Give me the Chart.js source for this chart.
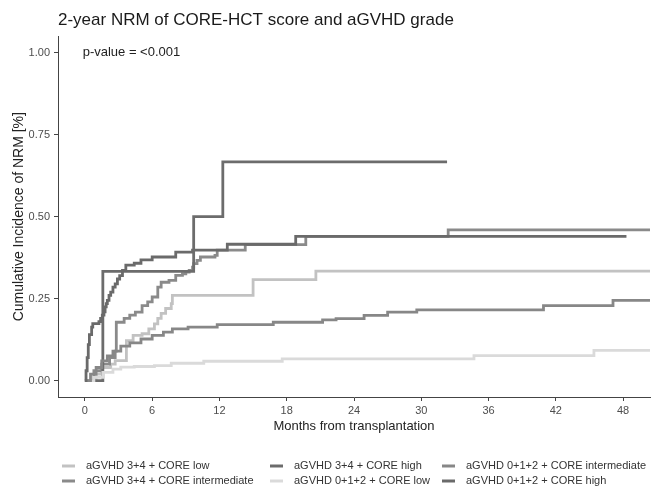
<!DOCTYPE html>
<html>
<head>
<meta charset="utf-8">
<script src="https://cdn.jsdelivr.net/npm/chart.js@4"></script>
<style>
  body { margin: 0; background: #fff; }
  canvas { display: block; }
</style>
</head>
<body>
<canvas id="nrm" width="654" height="486"></canvas>
<script>
// months / cumulative incidence
const low34T = [0, 1.0, 1.5, 2.3, 2.7, 3.7, 4.3, 5.1, 5.7, 6.2, 6.5, 6.8, 7.2, 7.7, 7.8, 15.0, 20.6, 50.4];
const low34V = [0, 0.02, 0.04, 0.05, 0.061, 0.122, 0.138, 0.143, 0.158, 0.173, 0.19, 0.205, 0.22, 0.235, 0.26, 0.308, 0.334, 0.334];

const int34T = [0, 0.8, 1.5, 2.2, 2.7, 2.8, 3.5, 4.0, 4.5, 5.1, 5.6, 6.0, 6.5, 6.8, 7.5, 8.1, 8.7, 9.0, 9.3, 9.6, 9.7, 10.0, 10.3, 11.6, 11.8, 14.3, 19.7, 32.4, 50.4];
const int34V = [0, 0.03, 0.05, 0.07, 0.09, 0.178, 0.19, 0.2, 0.209, 0.229, 0.24, 0.255, 0.285, 0.3, 0.306, 0.321, 0.326, 0.331, 0.336, 0.346, 0.357, 0.367, 0.377, 0.382, 0.398, 0.415, 0.44, 0.46, 0.46];

const high34T = [0, 1.6, 9.7, 12.3, 32.3];
const high34V = [0, 0.333, 0.5, 0.667, 0.667];

const low012T = [0, 0.8, 1.6, 2.5, 3.2, 4.4, 6.2, 7.7, 10.6, 17.6, 34.7, 45.4, 50.4];
const low012V = [0, 0.01, 0.025, 0.035, 0.041, 0.043, 0.046, 0.053, 0.059, 0.066, 0.076, 0.092, 0.092];

const int012T = [0, 0.5, 1, 1.5, 2, 2.5, 3.2, 4, 5, 6, 7, 7.8, 9.2, 11.8, 16.8, 21.2, 22.4, 24.9, 27, 29.6, 40.9, 47.1, 50.4];
const int012V = [0, 0.02, 0.04, 0.06, 0.075, 0.09, 0.105, 0.115, 0.127, 0.138, 0.148, 0.158, 0.163, 0.171, 0.178, 0.185, 0.189, 0.199, 0.209, 0.216, 0.229, 0.245, 0.245];

const high012T = [0, 0.1, 0.2, 0.3, 0.4, 0.6, 0.7, 1.25, 1.4, 1.55, 1.7, 1.8, 1.9, 2.0, 2.15, 2.3, 2.5, 2.7, 2.9, 3.1, 3.35, 3.65, 4.4, 5.0, 6.0, 8.1, 9.6, 12.7, 18.8, 48.3];
const high012V = [0, 0.03, 0.07, 0.11, 0.14, 0.163, 0.174, 0.18, 0.19, 0.2, 0.21, 0.225, 0.235, 0.245, 0.26, 0.27, 0.285, 0.295, 0.31, 0.32, 0.336, 0.352, 0.358, 0.368, 0.377, 0.392, 0.398, 0.416, 0.44, 0.44];

const groupNames = [
  'aGVHD 3+4 + CORE low',
  'aGVHD 3+4 + CORE intermediate',
  'aGVHD 3+4 + CORE high',
  'aGVHD 0+1+2 + CORE low',
  'aGVHD 0+1+2 + CORE intermediate',
  'aGVHD 0+1+2 + CORE high'
];
const groupColors = ['#c2c2c2', '#8a8a8a', '#6c6c6c', '#dadada', '#878787', '#6a6a6a'];
const groupTimes = [low34T, int34T, high34T, low012T, int012T, high012T];
const groupValues = [low34V, int34V, high34V, low012V, int012V, high012V];

const xTicks = [0, 6, 12, 18, 24, 30, 36, 42, 48];
const yTicks = [0, 0.25, 0.5, 0.75, 1];

const FONT = '"Liberation Sans", Arial, sans-serif';

const datasets = groupNames.map((name, i) => ({
  label: name,
  data: groupTimes[i].map((t, j) => ({x: t, y: groupValues[i][j]})),
  borderColor: groupColors[i],
  backgroundColor: groupColors[i],
  borderWidth: 2.8,
  pointRadius: 0,
  stepped: true,
  fill: false,
  order: groupNames.length - i
}));

// ggplot fills the legend column by column, 2 rows
const legendPlugin = {
  id: 'ggLegend',
  afterDraw(chart) {
    const ctx = chart.ctx;
    const colX = [86, 294, 466];
    const rowY = [466, 481];
    ctx.save();
    ctx.font = '11px ' + FONT;
    ctx.textBaseline = 'middle';
    ctx.textAlign = 'left';
    groupNames.forEach((name, i) => {
      const col = Math.floor(i / 2), row = i % 2;
      const x = colX[col], y = rowY[row];
      ctx.strokeStyle = groupColors[i];
      ctx.lineWidth = 3;
      ctx.beginPath();
      ctx.moveTo(x - 24, y);
      ctx.lineTo(x - 11, y);
      ctx.stroke();
      ctx.fillStyle = '#333';
      ctx.fillText(name, x, y);
    });
    ctx.restore();
  }
};

// p-value note drawn in data units
const textPlugin = {
  id: 'extraText',
  afterDraw(chart) {
    const ctx = chart.ctx;
    ctx.save();
    ctx.font = '13px ' + FONT;
    ctx.fillStyle = '#222';
    ctx.textBaseline = 'middle';
    ctx.fillText('p-value = <0.001', chart.scales.x.getPixelForValue(-0.2), chart.scales.y.getPixelForValue(1));
    ctx.restore();
  }
};

new Chart(document.getElementById('nrm'), {
  type: 'line',
  data: {datasets: datasets},
  options: {
    responsive: false,
    animation: false,
    layout: {padding: {left: 0, right: 4, top: 0, bottom: 49}},
    plugins: {
      legend: {display: false},
      tooltip: {enabled: false},
      title: {
        display: true,
        text: '2-year NRM of CORE-HCT score and aGVHD grade',
        align: 'start',
        fullSize: false,
        color: '#1a1a1a',
        font: {family: FONT, size: 17, weight: 'normal'},
        padding: {top: 10, bottom: 6}
      }
    },
    scales: {
      x: {
        type: 'linear',
        min: -2.4,
        max: 50.4,
        afterBuildTicks: scale => { scale.ticks = xTicks.map(v => ({value: v})); },
        afterFit: scale => { scale.height = 40; },
        ticks: {
          autoSkip: false,
          maxRotation: 0,
          padding: 3,
          color: '#4d4d4d',
          font: {family: FONT, size: 11},
          callback: v => String(v)
        },
        grid: {display: true, drawOnChartArea: false, drawTicks: true, tickLength: 4, color: '#444'},
        border: {display: true, color: '#444', width: 1},
        title: {
          display: true,
          text: 'Months from transplantation',
          color: '#222',
          font: {family: FONT, size: 13},
          padding: {top: 0, bottom: 3}
        }
      },
      y: {
        min: -0.05,
        max: 1.05,
        afterBuildTicks: scale => { scale.ticks = yTicks.map(v => ({value: v})); },
        afterFit: scale => { scale.width = 58; },
        ticks: {
          padding: 4,
          color: '#4d4d4d',
          font: {family: FONT, size: 11},
          callback: v => Number(v).toFixed(2)
        },
        grid: {display: true, drawOnChartArea: false, drawTicks: true, tickLength: 4, color: '#444'},
        border: {display: true, color: '#444', width: 1},
        title: {
          display: true,
          text: 'Cumulative Incidence of NRM [%]',
          color: '#222',
          font: {family: FONT, size: 14},
          padding: {top: 11, bottom: 0}
        }
      }
    }
  },
  plugins: [legendPlugin, textPlugin]
});
</script>
</body>
</html>
